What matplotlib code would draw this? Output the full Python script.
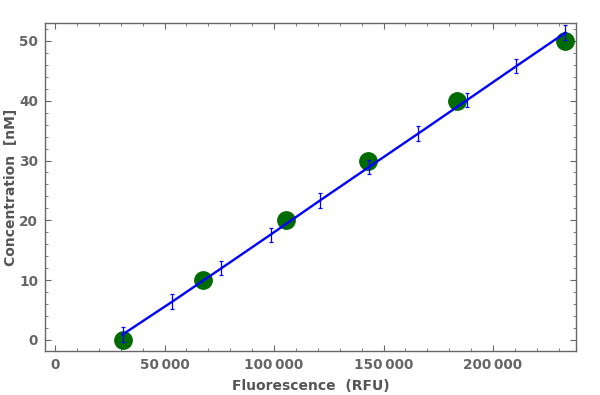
import matplotlib
matplotlib.use('Agg')
import matplotlib.pyplot as plt
from matplotlib.ticker import MultipleLocator, FuncFormatter

# calibration standards (green dots)
std_fluor = [30800, 67400, 105300, 142900, 183600, 233000]
std_conc = [0, 10, 20, 30, 40, 50]

# fitted line samples with error bars
fit_fluor = [30800, 53500, 76000, 98400, 120900, 143300, 165800, 188100, 210700, 233100]
fit_conc = [0.9, 6.4, 12.0, 17.6, 23.3, 28.9, 34.5, 40.1, 45.8, 51.4]
fit_err = [1.2, 1.2, 1.2, 1.2, 1.2, 1.2, 1.2, 1.2, 1.2, 1.2]

gray = '#666666'

fig = plt.figure(figsize=(6, 3.95), dpi=100)
ax = fig.add_axes([0.075, 0.1114, 0.885, 0.8304])

ax.plot(std_fluor, std_conc, 'o', color='#006b00', markersize=12.5, zorder=2)
ax.plot(fit_fluor, fit_conc, color='#0000ff', linewidth=1.7, zorder=3)
ax.errorbar(fit_fluor, fit_conc, yerr=fit_err, fmt='none', ecolor='#0000ff',
            elinewidth=0.9, capsize=1.2, capthick=0.9, zorder=4)

ax.set_xlim(-4600, 237900)
ax.set_ylim(-1.85, 53.0)

ax.xaxis.set_major_locator(MultipleLocator(50000))
ax.xaxis.set_minor_locator(MultipleLocator(10000))
ax.yaxis.set_major_locator(MultipleLocator(10))
ax.yaxis.set_minor_locator(MultipleLocator(2))
ax.xaxis.set_major_formatter(FuncFormatter(
    lambda v, p: '0' if v == 0 else f'{int(v) // 1000}\u2009{int(v) % 1000:03d}'))

for s in ax.spines.values():
    s.set_color(gray)
    s.set_linewidth(1.0)
ax.tick_params(which='both', direction='in', top=True, right=True, colors=gray)
ax.tick_params(which='major', length=4.5, width=0.8, labelsize=9.8, pad=5)
ax.tick_params(which='minor', length=2.5, width=0.6)
for lab in ax.get_xticklabels() + ax.get_yticklabels():
    lab.set_fontweight('bold')
    lab.set_color(gray)

ax.set_xlabel('Fluorescence  (RFU)', fontsize=10, fontweight='bold', color='#555555', labelpad=5)
ax.set_ylabel('Concentration  [nM]', fontsize=10, fontweight='bold', color='#555555', labelpad=1)

fig.savefig('out.png', dpi=100)
